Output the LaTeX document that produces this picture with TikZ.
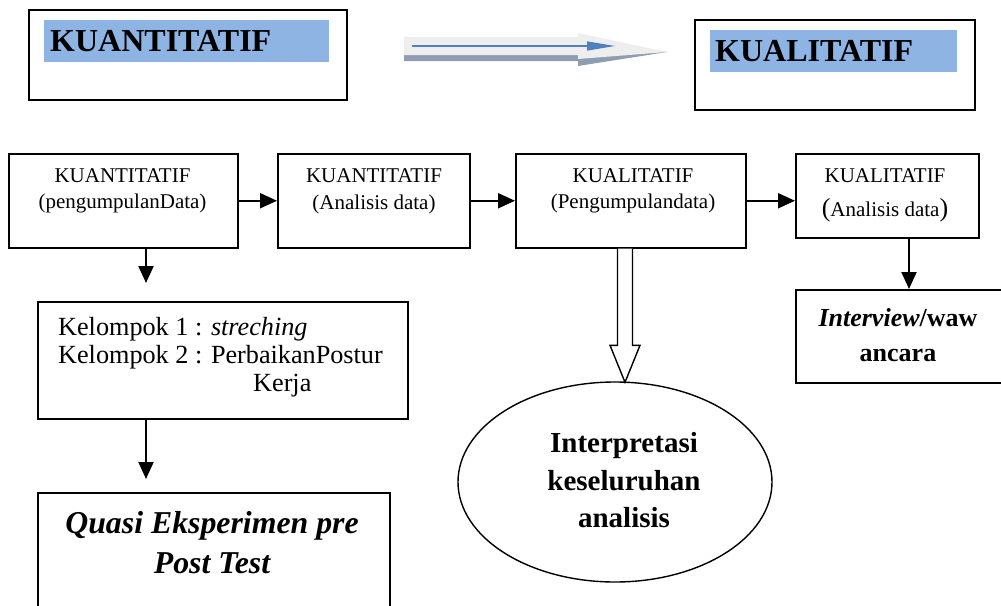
\documentclass[tikz,border=0pt]{standalone}
\usepackage{fontspec}
\setmainfont{Liberation Serif}
\usetikzlibrary{arrows.meta,shapes.geometric,calc}
\definecolor{hl}{RGB}{142,180,227}
\definecolor{shadowc}{RGB}{143,157,177}
\definecolor{lightc}{RGB}{238,238,238}
\definecolor{bluec}{RGB}{79,129,189}
\begin{document}
\begin{tikzpicture}[x=1pt,y=-1pt,
  box/.style={draw, line width=1.5pt, inner sep=0pt, anchor=north west},
  hlbox/.style={fill=hl, inner sep=0pt, anchor=north west},
  arr/.style={line width=2pt, -{Triangle[length=17pt,width=15pt]}},
  tsmall/.style={font=\fontsize{21}{25}\selectfont, inner sep=0pt, anchor=base},
  tkel/.style={font=\fontsize{26.2}{31}\selectfont, inner sep=0pt, anchor=base west},
  tquasi/.style={font=\fontsize{31.8}{36}\bfseries\itshape\selectfont, inner sep=0pt, anchor=base},
  tell/.style={font=\fontsize{29}{33}\bfseries\selectfont, inner sep=0pt, anchor=base},
  tint/.style={font=\fontsize{26}{30}\bfseries\selectfont, inner sep=0pt, anchor=base},
  ttop/.style={font=\fontsize{32}{36}\bfseries\selectfont, inner sep=0pt, anchor=base west}]
\useasboundingbox (0,0) rectangle (1001,605);

% top boxes
\node[box, minimum width=318pt, minimum height=90pt] (TL) at (28,9) {};
\node[hlbox, minimum width=285pt, minimum height=42pt] (TLh) at (44,20) {};
\node[ttop] (TLt) at (50,51) {KUANTITATIF};
\node[box, minimum width=280pt, minimum height=90pt] (TR) at (694,19) {};
\node[hlbox, minimum width=247pt, minimum height=42pt] (TRh) at (710,30) {};
\node[ttop] (TRt) at (715,61) {KUALITATIF};

% block arrow
\coordinate (ba1) at (404,46);
\coordinate (ba2) at (667,52);
\fill[shadowc] (404,43) -- (578,43) -- (578,40) -- (ba2) -- (578,66) -- (578,61) -- (404,61) -- cycle;
\fill[lightc] (404,37) -- (578,37) -- (578,33) -- (ba2) -- (578,59) -- (578,55) -- (404,55) -- cycle;
\draw[bluec, line width=1.3pt, -{Triangle[length=28pt,width=9pt]}] ($(ba1)+(8,0)$) -- (615,46);

% row 2 boxes
\node[box, minimum width=229pt, minimum height=94pt] (A) at (8,153) {};
\node[box, minimum width=192pt, minimum height=94pt] (B) at (277,153) {};
\node[box, minimum width=230pt, minimum height=94pt] (C) at (515,153) {};
\node[box, minimum width=183pt, minimum height=84pt] (D) at (795,153) {};

\node[tsmall] (At1) at (122.5,182) {KUANTITATIF};
\node[tsmall] (At2) at (122.5,208) {(pengumpulanData)};
\node[tsmall] (Bt1) at (374,182) {KUANTITATIF};
\node[tsmall] (Bt2) at (374,209) {(Analisis data)};
\node[tsmall] (Ct1) at (633,182) {KUALITATIF};
\node[tsmall] (Ct2) at (633,208) {(Pengumpulandata)};
\node[tsmall] (Dt1) at (885,182) {KUALITATIF};
\node[tsmall] (Dt2) at (885,216) {{\fontsize{26}{30}\selectfont(}Analisis data{\fontsize{26}{30}\selectfont)}};

% lower boxes
\node[box, minimum width=370pt, minimum height=117pt] (E) at (37,301) {};
\node[tkel] (Et1) at (58,335) {Kelompok 1 : \textit{streching}};
\node[tkel] (Et2) at (58,363) {Kelompok 2 : PerbaikanPostur};
\node[tkel] (Et3) at (253,391) {Kerja};

\node[box, minimum width=352pt, minimum height=130pt] (F) at (37,492) {};
\node[tquasi] (Ft1) at (212,533) {Quasi Eksperimen pre};
\node[tquasi] (Ft2) at (212,573) {Post Test};

\node[box, minimum width=210pt, minimum height=93pt] (G) at (795,289) {};
\node[tint] (Gt1) at (898,326) {\textit{Interview}/waw};
\node[tint] (Gt2) at (898,361) {ancara};

\node[draw, ellipse, line width=1.4pt, inner sep=0pt, minimum width=314pt, minimum height=200pt] (I) at (615,482) {};
\node[tell] (It1) at (624,452) {Interpretasi};
\node[tell] (It2) at (624,490) {keseluruhan};
\node[tell] (It3) at (624,527) {analisis};

% connectors
\draw[arr] (A.east) -- (B.west);
\draw[arr] (B.east) -- (C.west);
\draw[arr] (C.east) -- (C.east -| D.west);
\coordinate (a1) at (146,283);
\draw[arr] (a1 |- A.south) -- (a1);
\coordinate (a2) at (146,479);
\draw[arr] (a2 |- E.south) -- (a2);
\coordinate (a3) at (909,0);
\draw[arr] (a3 |- D.south) -- (a3 |- G.north);

% hollow double arrow
\coordinate (dt) at ($(I.north)+(10,1)$);
\draw[line width=1.4pt, fill=white, line join=miter]
  ($(C.south -| dt)+(-7.5,0)$) -- ($(dt)+(-7.5,-37)$) -- ($(dt)+(-15,-37)$) -- (dt)
  -- ($(dt)+(15,-37)$) -- ($(dt)+(7.5,-37)$) -- ($(C.south -| dt)+(7.5,0)$);
\end{tikzpicture}
\end{document}
